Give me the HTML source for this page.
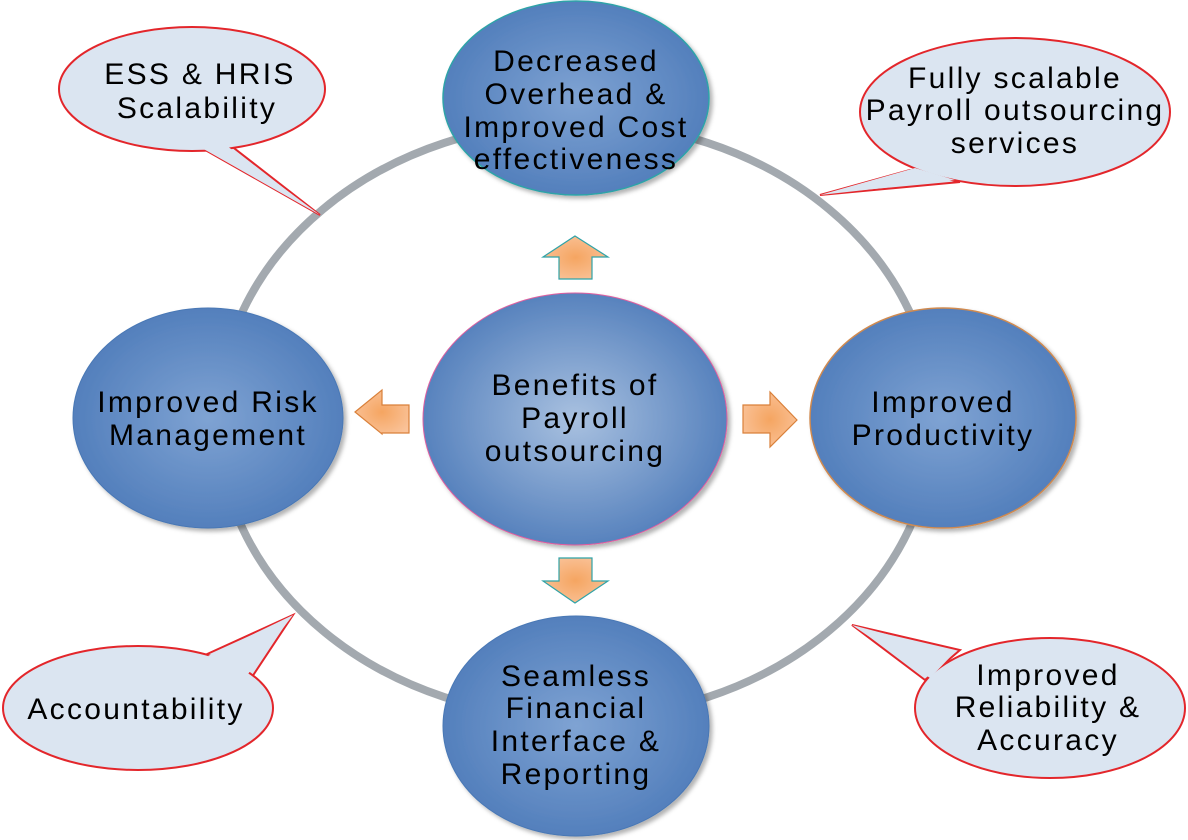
<!DOCTYPE html>
<html><head><meta charset="utf-8"><style>
html,body{margin:0;padding:0;background:#fff;width:1188px;height:840px;overflow:hidden}
text{font-family:"Liberation Sans",sans-serif;font-size:30px;fill:#000;text-anchor:middle;letter-spacing:2.3px}
</style></head><body>
<svg width="1188" height="840" viewBox="0 0 1188 840" xmlns="http://www.w3.org/2000/svg">
<defs>
<radialGradient id="nb" cx="50%" cy="50%" r="55%">
<stop offset="0" stop-color="#7fa3d3"/><stop offset="1" stop-color="#4f7cba"/></radialGradient>
<radialGradient id="cb" cx="50%" cy="50%" r="55%">
<stop offset="0" stop-color="#a9c1e0"/><stop offset="1" stop-color="#4f7cba"/></radialGradient>
<radialGradient id="ob" cx="50%" cy="50%" r="60%">
<stop offset="0" stop-color="#f5a561"/><stop offset="1" stop-color="#fac39a"/></radialGradient>
<filter id="sh" x="-10%" y="-10%" width="125%" height="125%"><feDropShadow dx="3" dy="3" stdDeviation="2" flood-color="#000" flood-opacity="0.3"/></filter>
</defs>
<ellipse cx="576" cy="420" rx="358" ry="298" fill="none" stroke="#a3a9af" stroke-width="8"/>
<g stroke="#e3262b" stroke-width="2" fill="#dbe5f1">
<polygon points="170,130 320,215 230,145"/>
<ellipse cx="192" cy="89" rx="133" ry="62"/>
<polygon points="220,144 227,146 320,215 170,130 180,128" stroke="none"/>
<polygon points="910,170 820,195 960,182"/>
<ellipse cx="1015" cy="112" rx="155" ry="74"/>
<polygon points="915,168 955,180 820,195" stroke="none"/>
<polygon points="205,655 293,615 250,680"/>
<ellipse cx="138" cy="708" rx="135" ry="62"/>
<polygon points="208,656 293,615 245,678" stroke="none"/>
<polygon points="925,680 852,625 960,650"/>
<ellipse cx="1050" cy="708" rx="135" ry="70"/>
<polygon points="930,678 852,625 955,652" stroke="none"/>
</g>
<text x="200" y="84">ESS &amp; HRIS</text><text x="197" y="118">Scalability</text>
<text x="1015" y="88">Fully scalable</text><text x="1015" y="120">Payroll outsourcing</text><text x="1015" y="153">services</text>
<text x="136" y="719">Accountability</text>
<text x="1048" y="685">Improved</text><text x="1048" y="717">Reliability &amp;</text><text x="1048" y="750">Accuracy</text>
<g filter="url(#sh)">
<ellipse cx="576" cy="98" rx="133" ry="97" fill="url(#nb)" stroke="#2fa3a8" stroke-width="1.5"/>
<ellipse cx="208" cy="418" rx="135" ry="110" fill="url(#nb)" stroke="#4a78b5"/>
<ellipse cx="943" cy="418" rx="133" ry="110" fill="url(#nb)" stroke="#d08a50" stroke-width="1.5"/>
<ellipse cx="576" cy="726" rx="133" ry="110" fill="url(#nb)" stroke="#4a78b5"/>
<ellipse cx="575" cy="419" rx="152" ry="126" fill="url(#cb)" stroke="#e05fa0" stroke-width="1"/>
</g>
<text x="576" y="71">Decreased</text><text x="576" y="104">Overhead &amp;</text><text x="576" y="137">Improved Cost</text><text x="576" y="169">effectiveness</text>
<text x="208" y="412">Improved Risk</text><text x="208" y="445">Management</text>
<text x="943" y="412">Improved</text><text x="943" y="445">Productivity</text>
<text x="576" y="686">Seamless</text><text x="576" y="718">Financial</text><text x="576" y="751">Interface &amp;</text><text x="576" y="784">Reporting</text>
<text x="575" y="395">Benefits of</text><text x="575" y="428">Payroll</text><text x="575" y="461">outsourcing</text>
<g fill="url(#ob)" stroke-width="1.2">
<polygon points="575,236 608,257 592,257 592,279 559,279 559,257 543,257" stroke="#2fa3a8"/>
<polygon points="575,603 608,581 592,581 592,558 559,558 559,581 543,581" stroke="#2fa3a8"/>
<polygon points="797,420 770,392 770,405 743,405 743,433 770,433 770,447" stroke="#d9803a"/>
<polygon points="355,412 382,390 382,405 409,405 409,433 382,433 382,434" stroke="#d9803a"/>
</g>
</svg>
</body></html>
